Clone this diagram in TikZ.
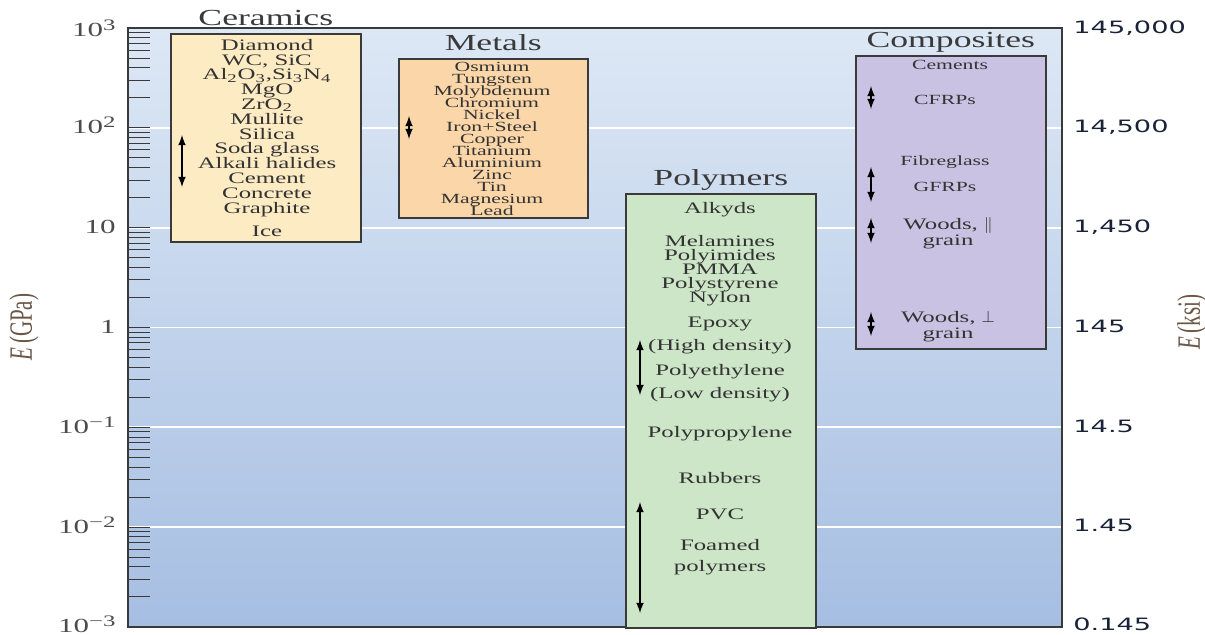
\documentclass[tikz,border=0pt]{standalone}
\usepackage{fontspec}
\setmainfont{Liberation Serif}[FakeStretch=1.55]
\newfontfamily\axisfont{DejaVu Sans}[FakeStretch=1.6]
\newfontfamily\plainserif{Liberation Serif}
\usetikzlibrary{positioning}

\definecolor{bgtop}{HTML}{DDE8F5}
\definecolor{bgbottom}{HTML}{A6BEE2}
\definecolor{cerfill}{HTML}{FDEBC3}
\definecolor{metfill}{HTML}{FBD6A8}
\definecolor{polfill}{HTML}{CDE6C8}
\definecolor{comfill}{HTML}{CAC2E2}
\definecolor{boxline}{HTML}{3A3A3A}
\definecolor{itemtext}{HTML}{333333}
\definecolor{ksitext}{HTML}{1A2238}
\definecolor{gpatext}{HTML}{6B5646}

\newcommand{\expo}[1]{\raisebox{0.55ex}{\fontsize{8}{8}\selectfont#1}}

\begin{document}
\begin{tikzpicture}[
	x=0.5pt,y=-0.5pt,
	matbox/.style={
	  draw=boxline,
	  line width=0.8pt,
	  anchor=north west,
	  inner sep=0pt
	},
	heading/.style={
	  font=\fontsize{11.5}{12}\selectfont,
	  text=boxline,
	  inner sep=0pt,
	  text depth=0pt
	},
	entry/.style={
	  font={\fontsize{8}{7.4}\selectfont\lineskiplimit=-20pt},
	  text=itemtext,
	  align=center,
	  inner sep=0pt,
	  anchor=base
	},
	smallentry/.style={
	  entry,
	  font={\fontsize{7}{6}\selectfont\lineskiplimit=-20pt}
	},
	gpanum/.style={
	  font=\fontsize{10}{10}\selectfont,
	  text=black!70,
	  inner sep=0pt,
	  anchor=base east
	},
	ksinum/.style={
	  font=\axisfont\fontsize{8.5}{9}\selectfont,
	  text=ksitext,
	  inner sep=0pt,
	  anchor=base west
	},
	tickmark/.style={draw=boxline, line width=0.5pt},
	gridline/.style={draw=white, line width=0.9pt},
	spanarrow/.style={latex-latex, line width=0.75pt}
]
\useasboundingbox (0,0) rectangle (1205,634);

% plot area
\coordinate (plotNW) at (128,28);
\coordinate (plotSE) at (1062,627);
\shade[top color=bgtop, bottom color=bgbottom] (plotNW) rectangle (plotSE);
\foreach \n in {1,...,5}
  \draw[gridline] (128,{28+99.83*\n}) -- (1062,{28+99.83*\n});
\draw[draw=boxline, line width=0.8pt] (plotNW) rectangle (plotSE);

% log ticks
\foreach \n in {0,...,5}
  \foreach \k in {1,...,9}
    \draw[tickmark] (128,{28+99.83*(\n+1)-99.83*log10(\k)}) -- ++(22,0);

% E in GPa
\node[gpanum] (g3) at (116,36) {10\expo{3}};
\node[gpanum] (g2) at (116,133) {10\expo{2}};
\node[gpanum] (g1) at (116,233) {10};
\node[gpanum] (g0) at (116,333) {1};
\node[gpanum] (gm1) at (116,433) {10\expo{−1}};
\node[gpanum] (gm2) at (116,533) {10\expo{−2}};
\node[gpanum] (gm3) at (116,632) {10\expo{−3}};
\node[rotate=90, text=gpatext, inner sep=0pt] (gpalabel) at (24,327)
  {\scalebox{1}[1.55]{\plainserif\fontsize{10.5}{11}\selectfont\textit{E}\,(GPa)}};

% E in ksi
\node[ksinum] (k3) at (1073,33) {145,000};
\node[ksinum] (k2) at (1073,132) {14,500};
\node[ksinum] (k1) at (1073,232) {1,450};
\node[ksinum] (k0) at (1073,332) {145};
\node[ksinum] (km1) at (1073,432) {14.5};
\node[ksinum] (km2) at (1073,531) {1.45};
\node[ksinum] (km3) at (1073,630) {0.145};
\node[rotate=90, text=gpatext, inner sep=0pt] (ksilabel) at (1192,322)
  {\scalebox{1}[1.55]{\plainserif\fontsize{10.5}{11}\selectfont\textit{E}\,(ksi)}};

% Ceramics
\node[matbox, fill=cerfill, minimum width=95pt, minimum height=104pt] (cer) at (170,33) {};
\node[heading, above=3.5pt of cer] (certitle) {Ceramics};
\node[entry] (cerlist) at (267,236) {Diamond\\WC, SiC\\Al\textsubscript{2}O\textsubscript{3},Si\textsubscript{3}N\textsubscript{4}\\MgO\\ZrO\textsubscript{2}\\Mullite\\Silica\\Soda glass\\Alkali halides\\Cement\\Concrete\\Graphite\\[4.1pt]Ice};
\coordinate (cerhi) at (182,135);
\coordinate (cerlo) at (182,187);
\draw[spanarrow] (cerhi) -- (cerlo);

% Metals
\node[matbox, fill=metfill, minimum width=94.5pt, minimum height=79.5pt] (met) at (398,58) {};
\node[heading, above=3.5pt of met] (mettitle) {Metals};
\node[smallentry] (metlist) at (492,215) {Osmium\\Tungsten\\Molybdenum\\Chromium\\Nickel\\Iron+Steel\\Copper\\Titanium\\Aluminium\\Zinc\\Tin\\Magnesium\\Lead};
\coordinate (methi) at (409,116);
\coordinate (metlo) at (409,139);
\draw[spanarrow] (methi) -- (metlo);

% Polymers
\node[matbox, fill=polfill, minimum width=95pt, minimum height=217pt] (pol) at (625,193) {};
\node[heading, above=3.5pt of pol] (poltitle) {Polymers};
\node[entry] (alkyds) at (720,213) {Alkyds};
\node[entry, font={\fontsize{8}{7}\selectfont\lineskiplimit=-20pt}] (melamines) at (720,302) {Melamines\\Polyimides\\PMMA\\Polystyrene\\Nylon};
\node[entry] (epoxy) at (720,327) {Epoxy};
\node[entry] (highden) at (720,350) {(High density)};
\node[entry] (polyeth) at (720,375) {Polyethylene};
\node[entry] (lowden) at (720,398) {(Low density)};
\node[entry] (polyprop) at (720,437) {Polypropylene};
\node[entry] (rubbers) at (720,483) {Rubbers};
\node[entry] (pvc) at (720,519) {PVC};
\node[entry, font={\fontsize{8}{10.5}\selectfont}] (foamed) at (720,571) {Foamed\\polymers};
\coordinate (pehi) at (640,340);
\coordinate (pelo) at (640,395);
\coordinate (foamhi) at (640,502);
\coordinate (foamlo) at (640,613);
\draw[spanarrow] (pehi) -- (pelo);
\draw[spanarrow] (foamhi) -- (foamlo);

% Composites
\node[matbox, fill=comfill, minimum width=95pt, minimum height=146.5pt] (com) at (855,55) {};
\node[heading, above=3.5pt of com] (comtitle) {Composites};
\node[smallentry] (cements) at (950,69) {Cements};
\node[smallentry] (cfrp) at (945,104) {CFRPs};
\node[smallentry] (fibre) at (945,165) {Fibreglass};
\node[smallentry] (gfrp) at (945,191) {GFRPs};
\node[smallentry, font={\fontsize{8}{8}\selectfont}] (woodpar) at (948,245) {Woods, $\parallel$\\grain};
\node[smallentry, font={\fontsize{8}{8}\selectfont}] (woodperp) at (948,338) {Woods, $\perp$\\grain};
\coordinate (cfrphi) at (871,86);
\coordinate (cfrplo) at (871,109);
\coordinate (gfrphi) at (871,167);
\coordinate (gfrplo) at (871,202);
\coordinate (wparhi) at (871,218);
\coordinate (wparlo) at (871,243);
\coordinate (wperhi) at (871,312);
\coordinate (wperlo) at (871,336);
\draw[spanarrow] (cfrphi) -- (cfrplo);
\draw[spanarrow] (gfrphi) -- (gfrplo);
\draw[spanarrow] (wparhi) -- (wparlo);
\draw[spanarrow] (wperhi) -- (wperlo);

\end{tikzpicture}
\end{document}
